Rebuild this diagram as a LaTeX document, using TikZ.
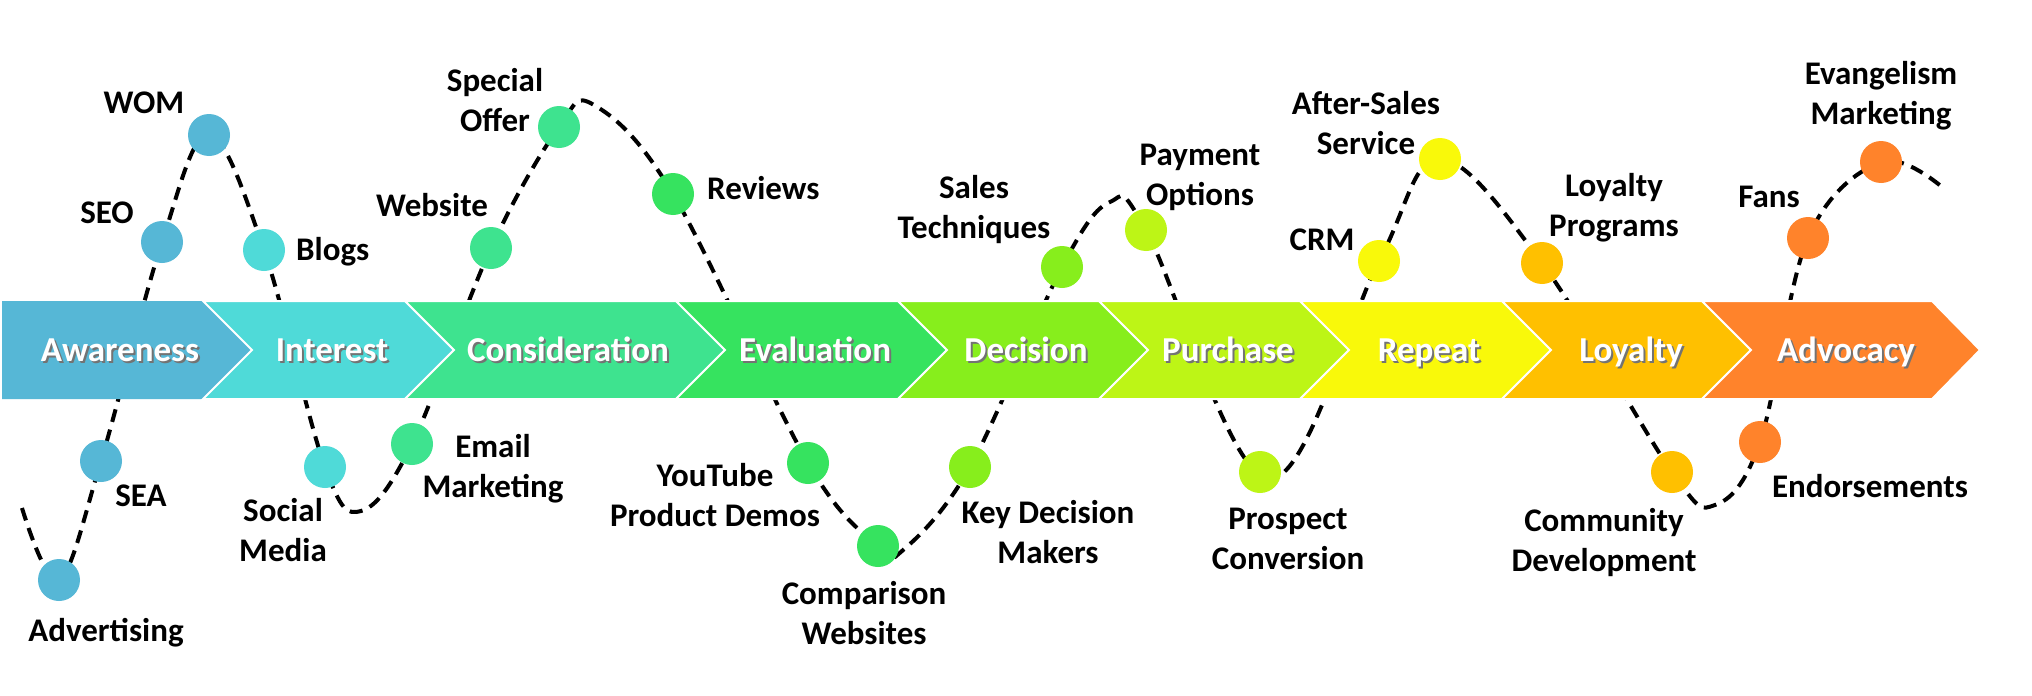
\documentclass[tikz,border=0pt]{standalone}
\usepackage{fontspec}
\setmainfont{Carlito}
\usetikzlibrary{backgrounds}
\definecolor{cAw}{RGB}{86,183,214}
\definecolor{cIn}{RGB}{79,218,216}
\definecolor{cCo}{RGB}{62,227,143}
\definecolor{cEv}{RGB}{54,227,95}
\definecolor{cDe}{RGB}{135,238,28}
\definecolor{cPu}{RGB}{189,245,22}
\definecolor{cRe}{RGB}{249,249,10}
\definecolor{cLo}{RGB}{255,192,0}
\definecolor{cAd}{RGB}{255,131,43}
\begin{document}
\begin{tikzpicture}[x=1pt,y=-1pt,
  dot/.style={circle, minimum size=42pt, inner sep=0pt, fill=#1},
  lbl/.style={font=\fontsize{33}{40}\selectfont\bfseries, align=center, anchor=base, inner sep=0pt},
  lblw/.style={lbl, anchor=base west},
  stage/.style={font=\fontsize{35}{40}\selectfont\bfseries, text=white, anchor=base, inner sep=0pt},
  shadowtxt/.style={stage, text=black!55},
  chev/.style={fill=#1, draw=white, line width=2pt, line join=miter},
  wave/.style={black, line width=4pt, dash pattern=on 13pt off 8pt}]
\useasboundingbox (0,0) rectangle (2032,696);

% circles
\node[dot=cAw] (adv) at (59,580) {};
\node[dot=cAw] (sea) at (101,461) {};
\node[dot=cAw] (seo) at (162,242) {};
\node[dot=cAw] (wom) at (209,135) {};
\node[dot=cIn] (blogs) at (264,250) {};
\node[dot=cIn] (social) at (325,467) {};
\node[dot=cCo] (email) at (412,444) {};
\node[dot=cCo] (website) at (491,248) {};
\node[dot=cCo] (special) at (559,127) {};
\node[dot=cEv] (reviews) at (673,194) {};
\node[dot=cEv] (youtube) at (808,463) {};
\node[dot=cEv] (comparison) at (878,546) {};
\node[dot=cDe] (keydec) at (970,467) {};
\node[dot=cDe] (sales) at (1062,267) {};
\node[dot=cPu] (payment) at (1146,230) {};
\node[dot=cPu] (prospect) at (1260,472) {};
\node[dot=cRe] (crm) at (1379,261) {};
\node[dot=cRe] (aftersales) at (1440,159) {};
\node[dot=cLo] (loyprog) at (1542,263) {};
\node[dot=cLo] (community) at (1672,472) {};
\node[dot=cAd] (endorse) at (1760,442) {};
\node[dot=cAd] (fans) at (1808,238) {};
\node[dot=cAd] (evang) at (1881,162) {};

\coordinate (w0) at (22,508);
\coordinate (w1) at (361,511);
\coordinate (w2) at (594,105);
\coordinate (w3) at (902,551);
\coordinate (w4) at (1110,202);
\coordinate (w5) at (1268,479);
\coordinate (w6) at (1715,505);
\coordinate (w7) at (1942,187);

\begin{pgfonlayer}{background}
\fill[white] (0,0) rectangle (2032,696);
\draw[wave] plot[smooth, tension=0.6] coordinates {(w0) (adv) (sea) (seo) (wom) (blogs) (social) (w1) (email) (website) (special) (w2) (reviews) (youtube) (comparison) (w3) (keydec) (sales) (w4) (payment) (w5) (crm) (aftersales) (loyprog) (community) (w6) (endorse) (fans) (evang) (w7)};
\end{pgfonlayer}

% band
\fill[cAw] (2,301) -- (203,301) -- (252,350) -- (203,399) -- (2,399) -- cycle;
\draw[chev=cIn] (203,301) -- (405,301) -- (454,350) -- (405,399) -- (203,399) -- (252,350) -- cycle;
\draw[chev=cCo] (405,301) -- (676,301) -- (725,350) -- (676,399) -- (405,399) -- (454,350) -- cycle;
\draw[chev=cEv] (676,301) -- (898,301) -- (947,350) -- (898,399) -- (676,399) -- (725,350) -- cycle;
\draw[chev=cDe] (898,301) -- (1099,301) -- (1148,350) -- (1099,399) -- (898,399) -- (947,350) -- cycle;
\draw[chev=cPu] (1099,301) -- (1300,301) -- (1349,350) -- (1300,399) -- (1099,399) -- (1148,350) -- cycle;
\draw[chev=cRe] (1300,301) -- (1502,301) -- (1551,350) -- (1502,399) -- (1300,399) -- (1349,350) -- cycle;
\draw[chev=cLo] (1502,301) -- (1702,301) -- (1751,350) -- (1702,399) -- (1502,399) -- (1551,350) -- cycle;
\draw[chev=cAd] (1702,301) -- (1932,301) -- (1980,350) -- (1932,399) -- (1702,399) -- (1751,350) -- cycle;
\fill[cAd] (1755,303) -- (1930,303) -- (1977,350) -- (1930,397) -- (1755,397) -- cycle;

% stage labels
\foreach \n/\x/\t in {sAw/120/Awareness, sIn/332/Interest, sCo/568/Consideration, sEv/815/Evaluation, sDe/1026/Decision, sPu/1228/Purchase, sRe/1429/Repeat, sLo/1631/Loyalty, sAd/1846/Advocacy}{
  \node[shadowtxt] (\n-sh) at (\x+2,363) {\t};
  \node[stage] (\n) at (\x,361) {\t};
}

% labels (base = baseline of the last line)
\node[lbl] (l-wom) at (144,113) {WOM};
\node[lbl] (l-seo) at (107,223) {SEO};
\node[lblw] (l-blogs) at (296,260) {Blogs};
\node[lbl] (l-website) at (432,216) {Website};
\node[lbl] (l-special) at (495,131) {Special\\Offer};
\node[lblw] (l-reviews) at (707,199) {Reviews};
\node[lbl] (l-sea) at (141,506) {SEA};
\node[lbl] (l-adv) at (106,641) {Advertising};
\node[lbl] (l-social) at (283,561) {Social\\Media};
\node[lbl] (l-email) at (493,497) {Email\\Marketing};
\node[lbl] (l-sales) at (974,238) {Sales\\Techniques};
\node[lbl] (l-payment) at (1200,205) {Payment\\Options};
\node[lbl] (l-youtube) at (715,526) {YouTube\\Product Demos};
\node[lbl] (l-comparison) at (864,644) {Comparison\\Websites};
\node[lbl] (l-keydec) at (1048,563) {Key Decision\\Makers};
\node[lbl] (l-prospect) at (1288,569) {Prospect\\Conversion};
\node[lbl] (l-crm) at (1322,250) {CRM};
\node[lbl] (l-aftersales) at (1366,154) {After-Sales\\Service};
\node[lbl] (l-loyprog) at (1614,236) {Loyalty\\Programs};
\node[lbl] (l-fans) at (1769,207) {Fans};
\node[lbl] (l-evang) at (1881,124) {Evangelism\\Marketing};
\node[lbl] (l-endorse) at (1870,497) {Endorsements};
\node[lbl] (l-community) at (1604,571) {Community\\Development};
\end{tikzpicture}
\end{document}
